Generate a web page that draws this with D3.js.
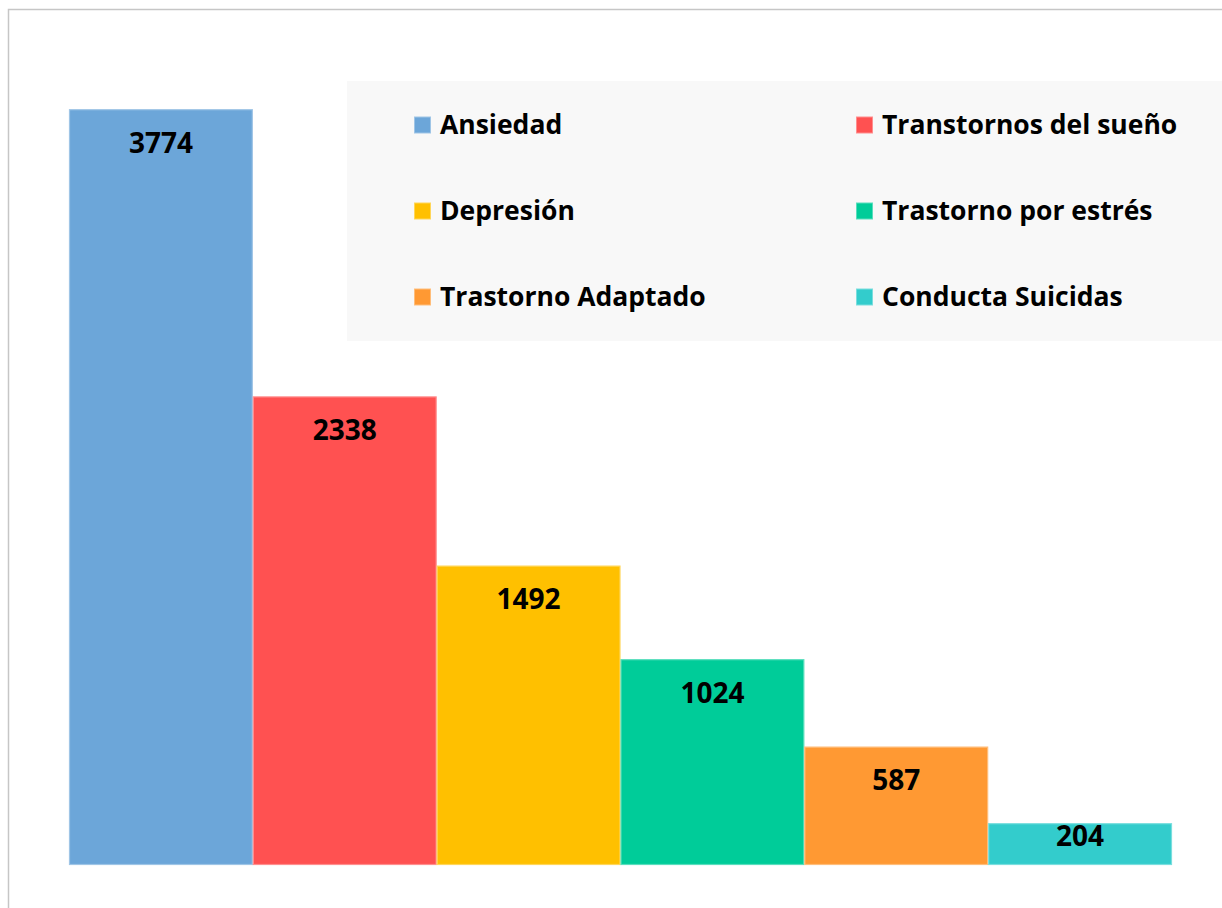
<!DOCTYPE html>
<html>
<head>
<meta charset="utf-8">
<script src="https://cdn.jsdelivr.net/npm/d3@7"></script>
<style>
  body { margin: 0; background: #fff; }
  text { font-family: "Open Sans", "Noto Sans", sans-serif; font-weight: bold; fill: #000; }
</style>
</head>
<body>
<svg id="chart" width="1222" height="908"></svg>
<script>
// data
const categories = ["Ansiedad", "Transtornos del sueño", "Depresión", "Trastorno por estrés", "Trastorno Adaptado", "Conducta Suicidas"];
const values = [3774, 2338, 1492, 1024, 587, 204];
const colors = ["#6CA6D9", "#FF5151", "#FFC000", "#00CC99", "#FF9933", "#33CCCC"];

const svg = d3.select("#chart");

// outer chart border (only left/top visible in frame)
svg.append("rect")
   .attr("x", 8.5).attr("y", 9.5)
   .attr("width", 1240).attr("height", 930)
   .attr("fill", "#fff")
   .attr("stroke", "#c6c6c6")
   .attr("stroke-width", 1.5);

const x = d3.scaleBand().domain(categories).range([69, 1172]).padding(0);
const y = d3.scaleLinear().domain([0, 4000]).range([864.5, 64.5]);
const color = d3.scaleOrdinal().domain(categories).range(colors);

const lighter = c => d3.interpolateRgb(c, "#fff")(0.35);

// bars
svg.append("g")
   .selectAll("rect")
   .data(categories)
   .enter()
   .append("rect")
   .attr("x", d => x(d) + 0.5)
   .attr("y", (d, i) => y(values[i]))
   .attr("width", x.bandwidth() - 1)
   .attr("height", (d, i) => y(0) - y(values[i]))
   .attr("fill", d => color(d))
   .attr("stroke", d => lighter(color(d)))
   .attr("stroke-width", 1.2);

// value labels, inside end, pushed up when the bar is short
svg.append("g")
   .selectAll("text")
   .data(categories)
   .enter()
   .append("text")
   .attr("x", d => x(d) + x.bandwidth() / 2)
   .attr("y", (d, i) => Math.min(y(values[i]) + 33, y(0) - 28))
   .attr("dy", "0.35em")
   .attr("text-anchor", "middle")
   .style("font-size", "28px")
   .text((d, i) => values[i]);

// legend
const legend = svg.append("g");
legend.append("rect")
      .attr("x", 347).attr("y", 81)
      .attr("width", 875).attr("height", 260)
      .attr("fill", "#f8f8f8");

const colX = [414, 856];
const rowY = [125, 211, 297];

const item = legend.selectAll(".legItem")
   .data(categories)
   .enter()
   .append("g")
   .attr("class", "legItem")
   .attr("transform", (d, i) => `translate(${colX[i % 2]},${rowY[Math.floor(i / 2)]})`);

item.append("rect")
    .attr("x", 0.5).attr("y", -8)
    .attr("width", 16).attr("height", 16)
    .attr("fill", d => color(d))
    .attr("stroke", d => lighter(color(d)))
    .attr("stroke-width", 1);

item.append("text")
    .attr("x", 26)
    .attr("dy", "0.35em")
    .style("font-size", "26.5px")
    .text(d => d);
</script>
</body>
</html>
